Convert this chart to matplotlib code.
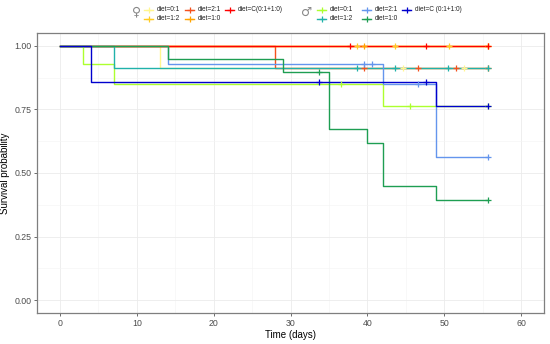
import numpy as np
import matplotlib
matplotlib.use("Agg")
import matplotlib.pyplot as plt

plt.rcParams['font.family'] = ['Liberation Sans', 'DejaVu Sans']

# ---- data ----
labels = ["diet=0:1", "diet=1:2", "diet=2:1", "diet=1:0", "diet=C(0:1+1:0)"]
labels_m = ["diet=0:1", "diet=1:2", "diet=2:1", "diet=1:0", "diet=C (0:1+1:0)"]
colors_f = ["#FFF68F", "#FFCC22", "#F4511E", "#FFA500", "#FF0000"]
colors_m = ["#ADFF2F", "#20B2AA", "#6495ED", "#1E9E52", "#0000CD"]

# female strata
f01_t = [0, 13];  f01_s = [1.0, 0.912]; f01_c = [44.6, 52.6, 55.7]
f12_t = [0];      f12_s = [1.0];        f12_c = [38.6, 43.6, 50.6, 55.7]
f21_t = [0, 28];  f21_s = [1.0, 0.912]; f21_c = [39.6, 46.6, 51.6, 55.7]
f10_t = [0];      f10_s = [1.0];        f10_c = [39.6, 55.7]
fC_t = [0];       fC_s = [1.0];         fC_c = [37.7, 47.6, 55.7]

# male strata
m01_t = [0, 3, 7, 42];  m01_s = [1.0, 0.928, 0.851, 0.762]; m01_c = [36.6, 45.6, 55.7]
m12_t = [0, 7];         m12_s = [1.0, 0.912];               m12_c = [38.6, 43.6, 50.5, 55.7]
m21_t = [0, 14, 42, 49]; m21_s = [1.0, 0.930, 0.849, 0.564]; m21_c = [39.6, 40.6, 46.6, 55.7]
m10_t = [0, 14, 29, 35, 40, 42, 49]
m10_s = [1.0, 0.948, 0.896, 0.673, 0.617, 0.449, 0.394]
m10_c = [33.7, 55.7]
mC_t = [0, 4, 49];      mC_s = [1.0, 0.858, 0.762];         mC_c = [33.7, 47.6, 55.7]

end_time = 55.7

female = [(f01_t, f01_s, f01_c), (f12_t, f12_s, f12_c), (f21_t, f21_s, f21_c),
          (f10_t, f10_s, f10_c), (fC_t, fC_s, fC_c)]
male = [(m01_t, m01_s, m01_c), (m12_t, m12_s, m12_c), (m21_t, m21_s, m21_c),
        (m10_t, m10_s, m10_c), (mC_t, mC_s, mC_c)]

W, H = 550, 344
fig = plt.figure(figsize=(W / 100, H / 100), dpi=100)
L, R, T, B = 37, 544, 33, 313
ax = fig.add_axes([L / W, (H - B) / H, (R - L) / W, (B - T) / H])


def draw(strata, colors):
    for (t, s, c), col in zip(strata, colors):
        t = np.asarray(t, float); s = np.asarray(s, float)
        tt = np.append(t, end_time); ss = np.append(s, s[-1])
        ax.step(tt, ss, where='post', color=col, lw=1.0, zorder=3)
        c = np.asarray(c, float)
        idx = np.searchsorted(t, c, side='right') - 1
        ax.plot(c, s[idx], ls='none', marker='+', ms=4.5, mew=0.9, color=col, zorder=4)


draw(female, colors_f)
draw(male, colors_m)

ax.set_xlim(-3, 63)
ax.set_ylim(-0.05, 1.05)
ax.set_xticks([0, 10, 20, 30, 40, 50, 60])
ax.set_xticks([5, 15, 25, 35, 45, 55], minor=True)
ax.set_yticks([0, 0.25, 0.5, 0.75, 1.0])
ax.set_yticklabels(["0.00", "0.25", "0.50", "0.75", "1.00"])
ax.set_yticks([0.125, 0.375, 0.625, 0.875], minor=True)
ax.grid(True, which='major', color='#EBEBEB', lw=0.6, zorder=0)
ax.grid(True, which='minor', color='#F4F4F4', lw=0.4, zorder=0)
ax.set_axisbelow(True)
for sp in ax.spines.values():
    sp.set_color('#7F7F7F')
    sp.set_linewidth(0.9)
ax.tick_params(which='major', length=2, width=0.5, color='#333333',
               labelsize=6.3, labelcolor='#4D4D4D', pad=2)
ax.tick_params(which='minor', length=0)
ax.set_xlabel("Time (days)", fontsize=7, labelpad=2)
ax.set_ylabel("Survival probability", fontsize=7, labelpad=3)

# ---- legend drawn in pixel coordinates ----
lg = fig.add_axes([0, 0, 1, 1], zorder=10)
lg.set_xlim(0, W); lg.set_ylim(H, 0); lg.axis('off')


def key(x, y, col, text):
    lg.plot([x, x + 9], [y, y], color=col, lw=1.0)
    lg.plot([x + 4.5], [y], marker='+', ms=4.0, mew=0.9, color=col)
    lg.text(x + 13, y, text, fontsize=4.7, va='center', ha='left', color='#222222')


r1, r2 = 9.5, 18.5
lg.text(137, 12, "\u2640", fontsize=9, color='#888888', va='center', ha='center',
        family=['DejaVu Sans'])
fx = [144, 185, 225]
key(fx[0], r1, colors_f[0], labels[0])
key(fx[0], r2, colors_f[1], labels[1])
key(fx[1], r1, colors_f[2], labels[2])
key(fx[1], r2, colors_f[3], labels[3])
key(fx[2], r1, colors_f[4], labels[4])

lg.text(307, 12, "\u2642", fontsize=9, color='#888888', va='center', ha='center',
        family=['DejaVu Sans'])
mx = [317, 362, 402]
key(mx[0], r1, colors_m[0], labels_m[0])
key(mx[0], r2, colors_m[1], labels_m[1])
key(mx[1], r1, colors_m[2], labels_m[2])
key(mx[1], r2, colors_m[3], labels_m[3])
key(mx[2], r1, colors_m[4], labels_m[4])

fig.savefig("out.png", dpi=100)
